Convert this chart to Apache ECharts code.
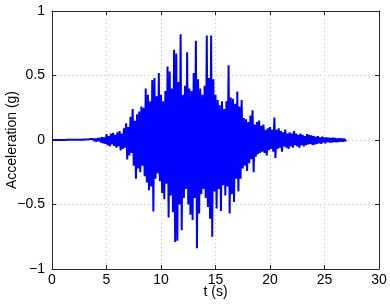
<!DOCTYPE html>
<html><head><meta charset="utf-8">
<script src="https://cdn.jsdelivr.net/npm/echarts@6/dist/echarts.min.js"></script>
<style>html,body{margin:0;padding:0;background:#fff}#c{width:390px;height:304px}</style>
</head><body><div id="c"></div>
<script>
// sample interval (s)
const dt = 0.1;
// acceleration samples (g), one row per second
const acc = [
  0,0,0,0,0,0,0,0,0,0,
  0,0,0,0,0.001,-0.001,0.001,0,0.001,-0.001,
  0.001,-0.001,0.002,-0.001,0.001,-0.002,0.002,-0.002,0.002,-0.003,
  0.003,-0.002,0.004,-0.004,0.005,-0.004,0.007,-0.006,0.008,-0.008,
  0.01,-0.012,0.015,-0.01,0.018,-0.02,0.022,-0.025,0.02,-0.03,
  0.045,-0.04,0.03,-0.05,0.05,-0.035,0.055,-0.045,0.04,-0.06,
  0.06,-0.05,0.07,-0.08,0.05,-0.07,0.09,-0.06,0.13,-0.15,
  0.1,-0.12,0.18,-0.1,0.24,-0.2,0.15,-0.3,0.2,-0.22,
  0.22,-0.25,0.26,-0.2,0.25,-0.28,0.4,-0.33,0.35,-0.39,
  0.3,-0.36,0.465,-0.555,0.48,-0.3,0.34,-0.26,0.52,-0.32,
  0.35,-0.41,0.3,-0.46,0.38,-0.34,0.57,-0.6,0.53,-0.43,
  0.4,-0.56,0.70,-0.79,0.67,-0.78,0.45,-0.5,0.82,-0.70,
  0.35,-0.45,0.42,-0.38,0.68,-0.5,0.4,-0.58,0.38,-0.62,
  0.52,-0.45,0.77,-0.84,0.47,-0.57,0.4,-0.42,0.35,-0.38,
  0.42,-0.45,0.81,-0.52,0.48,-0.61,0.81,-0.75,0.47,-0.4,
  0.35,-0.53,0.31,-0.38,0.27,-0.55,0.3,-0.35,0.24,-0.43,
  0.3,-0.36,0.58,-0.57,0.33,-0.42,0.32,-0.48,0.28,-0.3,
  0.375,-0.4,0.26,-0.3,0.31,-0.22,0.17,-0.2,0.16,-0.24,
  0.14,-0.18,0.19,-0.15,0.23,-0.25,0.12,-0.13,0.14,-0.11,
  0.15,-0.1,0.11,-0.09,0.12,-0.1,0.08,-0.12,0.09,-0.08,
  0.1,-0.07,0.08,-0.09,0.175,-0.14,0.08,-0.07,0.09,-0.06,
  0.07,-0.09,0.06,-0.05,0.08,-0.06,0.05,-0.07,0.06,-0.05,
  0.05,-0.06,0.07,-0.04,0.05,-0.05,0.04,-0.06,0.05,-0.04,
  0.04,-0.05,0.03,-0.04,0.045,-0.035,0.04,-0.03,0.035,-0.04,
  0.03,-0.035,0.025,-0.03,0.03,-0.025,0.02,-0.03,0.025,-0.02,
  0.02,-0.025,0.02,-0.015,0.018,-0.02,0.015,-0.02,0.018,-0.015,
  0.015,-0.018,0.012,-0.015,0.014,-0.012,0.01,-0.012,0.01,-0.008,
  0
];
const xTickLabels = ['0','5','10','15','20','25','30'];
const yTickLabels = ['\u22121','\u22120.5','0','0.5','1'];

const data = acc.map((v, i) => [Math.round(i * dt * 100) / 100, v]);
const font = "'Liberation Sans', Helvetica, Arial, sans-serif";
const axisCol = '#262626';
const chart = echarts.init(document.getElementById('c'), null, {renderer: 'canvas'});
const common = {
  axisLine: {show: true, onZero: false, lineStyle: {color: axisCol, width: 1}},
  axisTick: {show: true, inside: true, length: 4, lineStyle: {color: axisCol}},
};
chart.setOption({
  animation: false,
  grid: {left: 52, right: 11, top: 11, bottom: 35, containLabel: false, outerBoundsMode: 'none'},
  xAxis: [{
    type: 'value', min: 0, max: 30, interval: 5, position: 'bottom',
    name: 't (s)', nameLocation: 'middle', nameGap: 16, nameMoveOverlap: false,
    nameTextStyle: {color: '#000', fontSize: 14, fontFamily: font},
    ...common,
    axisLabel: {color: '#000', fontSize: 14, fontFamily: font, margin: 4,
      formatter: v => xTickLabels[Math.round(v / 5)]},
    splitLine: {show: true, lineStyle: {color: '#c4c4c4', type: [1, 3], width: 1}}
  }, {
    type: 'value', min: 0, max: 30, interval: 5, position: 'top',
    ...common, axisLabel: {show: false}, splitLine: {show: false}
  }],
  yAxis: [{
    type: 'value', min: -1, max: 1, interval: 0.5, position: 'left',
    name: 'Acceleration (g)', nameLocation: 'middle', nameGap: 33, nameMoveOverlap: false,
    nameTextStyle: {color: '#000', fontSize: 14, fontFamily: font},
    ...common,
    axisLabel: {color: '#000', fontSize: 14, fontFamily: font, margin: 7,
      formatter: v => yTickLabels[Math.round((v + 1) / 0.5)]},
    splitLine: {show: true, lineStyle: {color: '#c4c4c4', type: [1, 3], width: 1}}
  }, {
    type: 'value', min: -1, max: 1, interval: 0.5, position: 'right',
    ...common, axisLabel: {show: false}, splitLine: {show: false}
  }],
  series: [{
    type: 'line', data: data, showSymbol: false, symbol: 'none',
    sampling: null, smooth: false,
    lineStyle: {color: '#0000ff', width: 2},
    xAxisIndex: 0, yAxisIndex: 0
  }]
});
</script></body></html>
